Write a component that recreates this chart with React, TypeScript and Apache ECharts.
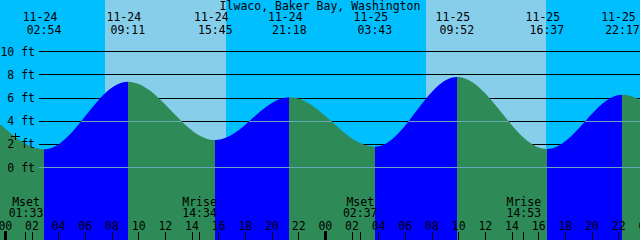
import React, { useEffect, useRef } from "react";
import * as echarts from "echarts";

const TITLE = "Ilwaco, Baker Bay, Washington";

// Tide extremes (the first two and last two lie outside the visible window)
const TIDE_DATES = ["11-23", "11-23", "11-24", "11-24", "11-24", "11-24", "11-25", "11-25", "11-25", "11-25", "11-26", "11-26"];
const TIDE_TIMES = ["14:50", "20:28", "02:54", "09:11", "15:45", "21:18", "03:43", "09:52", "16:37", "22:17", "04:35", "10:40"];
const TIDE_HEIGHTS = [2.6, 5.7, 1.57, 7.4, 2.37, 6.05, 1.79, 7.8, 1.6, 6.28, 2.0, 8.0];

const SUNRISE_DATES = ["11-24", "11-25"];
const SUNRISE_TIMES = ["07:29", "07:31"];
const SUNSET_TIMES = ["16:33", "16:32"];

const MOON_KINDS = ["Mset", "Mrise", "Mset", "Mrise"];
const MOON_DATES = ["11-24", "11-24", "11-25", "11-25"];
const MOON_TIMES = ["01:33", "14:34", "02:37", "14:53"];

const FT_MIN = 0;
const FT_MAX = 10;
const FT_STEP = 2;
const MSL_LEVEL = 4;
const DATUM_LEVEL = 0;

// layout / style
const W = 640;
const H = 240;
const PX_PER_HOUR = W / 48;
const VIEW_START = -0.4; // hours relative to 11-24 00:00
const ZERO_Y = 167.5;
const TEN_Y = 51.5;
const PX_PER_FT = (ZERO_Y - TEN_Y) / (FT_MAX - FT_MIN);
const Y_MAX = ZERO_Y / PX_PER_FT;
const Y_MIN = Y_MAX - H / PX_PER_FT;
const AXIS_MIN = -24;
const AXIS_MAX = 48;

const NIGHT = "#00BFFF";
const DAY = "#87CEEB";
const FLOOD = "#0000FF";
const EBB = "#2E8B57";
const DATUM = "#66A9B8";
const FONT = '11.5px "DejaVu Sans Mono"';
const FONT_FAMILY = "DejaVu Sans Mono";

function toHours(date: string, time: string): number {
  const day = Number(date.split("-")[1]) - 24;
  const [h, m] = time.split(":").map(Number);
  return day * 24 + h + m / 60;
}
const pad2 = (n: number) => (n < 10 ? "0" : "") + n;

const tideT = TIDE_TIMES.map((t, i) => toHours(TIDE_DATES[i], t));
const tideData = tideT.map((t, i) => [t, TIDE_HEIGHTS[i]]);
const viewEnd = VIEW_START + 48;
const labelled = tideT.map((t, i) => i).filter((i) => tideT[i] >= VIEW_START && tideT[i] <= viewEnd);

const pieces = tideT.slice(0, -1).map((t, i) => ({
  gte: t,
  lt: tideT[i + 1],
  color: TIDE_HEIGHTS[i + 1] > TIDE_HEIGHTS[i] ? FLOOD : EBB,
}));

const dayData = SUNRISE_TIMES.map((t, i) => [toHours(SUNRISE_DATES[i], t), toHours(SUNRISE_DATES[i], SUNSET_TIMES[i])]);
const moonData = MOON_TIMES.map((t, i) => [toHours(MOON_DATES[i], t), i]);

function textEl(text: string, x: number, y: number) {
  return {
    type: "text",
    x,
    y,
    style: {
      text,
      fill: "#000",
      font: FONT,
      lineHeight: 11,
      align: "center",
      verticalAlign: "middle",
      textAlign: "center",
      textVerticalAlign: "middle",
    },
  };
}

export default function App() {
  const ref = useRef<HTMLDivElement>(null);
  useEffect(() => {
    document.body.style.margin = "0";
    const chart = echarts.init(ref.current!, undefined, { renderer: "svg", width: W, height: H });
    const gridLeft = (AXIS_MIN - VIEW_START) * PX_PER_HOUR;
    const gridRight = W - (AXIS_MAX - VIEW_START) * PX_PER_HOUR;
    const option: any = {
      animation: false,
      backgroundColor: NIGHT,
      grid: [
        { left: gridLeft, right: gridRight, top: 0, bottom: 0, outerBoundsMode: "none", containLabel: false },
        { left: 39, right: 0, top: TEN_Y, height: ZERO_Y - TEN_Y, outerBoundsMode: "none", containLabel: false },
      ],
      xAxis: [
        {
          type: "value",
          gridIndex: 0,
          position: "bottom",
          min: AXIS_MIN,
          max: AXIS_MAX,
          interval: 2,
          z: 5,
          axisLine: { show: false, onZero: false },
          splitLine: { show: false },
          axisTick: { show: true, inside: true, length: 8, lineStyle: { color: "#000", width: 1 } },
          axisLabel: {
            inside: true,
            margin: 14,
            verticalAlign: "middle",
            color: "#000",
            fontFamily: FONT_FAMILY,
            fontSize: 11.5,
            lineHeight: 11,
            showMinLabel: true,
            showMaxLabel: true,
            formatter: (v: number) =>
              v < VIEW_START - 1 || v > viewEnd + 1 ? "" : pad2((((Math.round(v) % 24) + 24) % 24)),
          },
        },
        {
          type: "value",
          gridIndex: 0,
          position: "bottom",
          min: AXIS_MIN,
          max: AXIS_MAX,
          interval: 24,
          z: 5,
          axisLine: { show: false, onZero: false },
          splitLine: { show: false },
          axisLabel: { show: false },
          axisTick: { show: true, inside: true, length: 9, lineStyle: { color: "#000", width: 3 } },
        },
        { type: "value", gridIndex: 1, min: 0, max: 1, show: false, axisLine: { onZero: false } },
      ],
      yAxis: [
        { type: "value", gridIndex: 0, min: Y_MIN, max: Y_MAX, show: false, axisLine: { onZero: false } },
        {
          type: "value",
          gridIndex: 1,
          position: "left",
          min: FT_MIN,
          max: FT_MAX,
          interval: FT_STEP,
          z: 1,
          axisLine: { show: false, onZero: false },
          axisTick: { show: false },
          axisLabel: { show: false },
          splitLine: { show: true, lineStyle: { color: "#000", width: 1 } },
        },
        {
          type: "value",
          gridIndex: 1,
          position: "left",
          offset: 0,
          min: FT_MIN,
          max: FT_MAX,
          interval: FT_STEP,
          z: 5,
          axisLine: { show: false, onZero: false },
          axisTick: { show: false },
          splitLine: { show: false },
          axisLabel: {
            margin: 4,
            color: "#000",
            fontFamily: FONT_FAMILY,
            fontSize: 11.5,
            lineHeight: 11,
            formatter: (v: number) => v + " ft",
          },
        },
      ],
      visualMap: {
        type: "piecewise",
        show: false,
        dimension: 0,
        seriesIndex: 1,
        pieces,
      },
      graphic: [
        { ...textEl(TITLE, W / 2, 5.5), z: 100 },
        { type: "line", z: 100, shape: { x1: 11, y1: 136.5, x2: 20, y2: 136.5 }, style: { stroke: "#000", lineWidth: 1 } },
        { type: "line", z: 100, shape: { x1: 15.5, y1: 133, x2: 15.5, y2: 140 }, style: { stroke: "#000", lineWidth: 1 } },
      ],
      series: [
        {
          id: "day",
          type: "custom",
          xAxisIndex: 0,
          yAxisIndex: 0,
          z: 0,
          silent: true,
          data: dayData,
          renderItem: (params: any, api: any) => {
            const a = api.coord([api.value(0), 0]);
            const b = api.coord([api.value(1), 0]);
            const x0 = Math.round(a[0]);
            const x1 = Math.round(b[0]);
            return {
              type: "rect",
              shape: { x: x0, y: params.coordSys.y, width: x1 - x0, height: params.coordSys.height },
              style: { fill: DAY },
            };
          },
        },
        {
          id: "water",
          type: "line",
          xAxisIndex: 0,
          yAxisIndex: 0,
          z: 2,
          data: tideData,
          smooth: 0.36,
          smoothMonotone: "x",
          symbol: "none",
          silent: true,
          lineStyle: { width: 0 },
          areaStyle: { opacity: 1, origin: "start" },
        },
        {
          id: "msl",
          type: "line",
          xAxisIndex: 0,
          yAxisIndex: 0,
          z: 3,
          data: tideData,
          smooth: 0.36,
          smoothMonotone: "x",
          symbol: "none",
          silent: true,
          lineStyle: { width: 0 },
          areaStyle: { opacity: 1, origin: "start", color: "rgba(0,0,0,0)" },
        },
        {
          id: "datum",
          type: "line",
          xAxisIndex: 2,
          yAxisIndex: 1,
          z: 3,
          symbol: "none",
          silent: true,
          data: [
            [0, DATUM_LEVEL],
            [1, DATUM_LEVEL],
          ],
          lineStyle: { color: DATUM, width: 1 },
        },
        {
          id: "tideLabels",
          type: "custom",
          xAxisIndex: 0,
          yAxisIndex: 0,
          z: 6,
          silent: true,
          data: labelled.map((i) => [tideT[i], i]),
          renderItem: (params: any, api: any) => {
            const i = api.value(1);
            const x = api.coord([api.value(0), 0])[0];
            return {
              type: "group",
              children: [textEl(TIDE_DATES[i], x - 4, 17), textEl(TIDE_TIMES[i], x, 29.5)],
            };
          },
        },
        {
          id: "moon",
          type: "custom",
          xAxisIndex: 0,
          yAxisIndex: 0,
          z: 6,
          silent: true,
          data: moonData,
          renderItem: (params: any, api: any) => {
            const i = api.value(1);
            const x = api.coord([api.value(0), 0])[0];
            const xl = Math.floor(x) + 0.5;
            return {
              type: "group",
              children: [
                { type: "line", shape: { x1: xl, y1: 232, x2: xl, y2: 240 }, style: { stroke: "#000", lineWidth: 1 } },
                textEl(MOON_KINDS[i], x, 201.7),
                textEl(MOON_TIMES[i], x, 213.2),
              ],
            };
          },
        },
      ],
    };
    chart.setOption(option);
    const r = Math.floor(chart.convertToPixel({ yAxisIndex: 1 }, MSL_LEVEL) as number);
    const tr = "rgba(0,0,0,0)";
    const gradient = new echarts.graphic.LinearGradient(
      0,
      0,
      0,
      H,
      [
        { offset: 0, color: tr },
        { offset: r / H, color: tr },
        { offset: r / H, color: DATUM },
        { offset: (r + 1) / H, color: DATUM },
        { offset: (r + 1) / H, color: tr },
        { offset: 1, color: tr },
      ],
      true
    );
    chart.setOption({ series: [{ id: "msl", areaStyle: { color: gradient } }] });
    return () => chart.dispose();
  }, []);
  return <div ref={ref} style={{ position: "fixed", left: 0, top: 0, width: W, height: H }} />;
}
